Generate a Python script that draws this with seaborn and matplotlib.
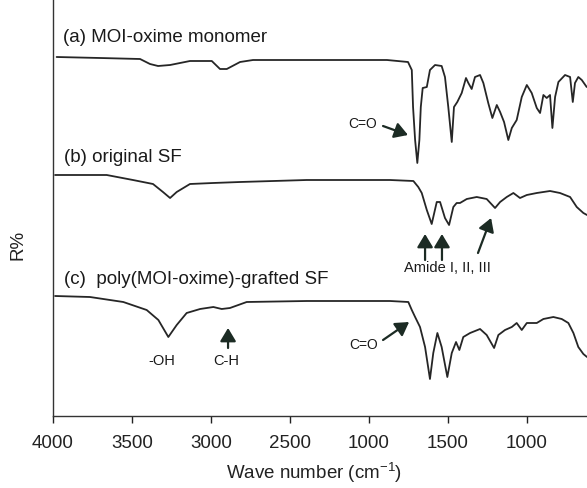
import matplotlib
matplotlib.use("Agg")
import matplotlib.pyplot as plt
import seaborn as sns
import pandas as pd

# ---- data (wavenumber in cm-1, R% in arbitrary offset units) ----
wn_a = [3977, 3702, 3449, 3386, 3335, 3259, 3133, 2995, 2943, 2900, 2816, 2734, 1886, 1753, 1729,
        1721, 1708, 1694, 1681, 1672, 1660, 1634, 1614, 1582, 1540, 1519, 1498, 1476, 1462, 1441,
        1413, 1386, 1371, 1350, 1329, 1297, 1276, 1245, 1219, 1191, 1170, 1145, 1118, 1096, 1065,
        1033, 1001, 970, 938, 917, 896, 875, 854, 839, 822, 801, 759, 727, 710, 696, 675, 653, 622]
r_a = [359, 358, 357, 352, 350, 351, 355, 355, 347, 347, 354, 356, 356, 354, 346,
       309, 276, 253, 276, 309, 328, 329, 346, 351, 350, 339, 309, 274, 309, 314,
       323, 338, 333, 327, 339, 341, 333, 313, 298, 311, 304, 294, 276, 288, 296,
       319, 331, 323, 308, 303, 321, 318, 321, 288, 319, 334, 341, 339, 314, 333, 339, 336, 329]

wn_b = [3987, 3660, 3494, 3367, 3304, 3259, 3217, 3133, 2987, 2816, 2394, 1867, 1719, 1688, 1666,
        1634, 1603, 1571, 1550, 1519, 1493, 1466, 1445, 1424, 1381, 1318, 1255, 1202, 1170, 1128,
        1086, 1044, 1001, 938, 854, 791, 727, 685, 643, 620]
r_b = [241, 241, 236, 232, 224, 218, 224, 232, 233, 234, 236, 236, 235, 229, 223,
       206, 192, 214, 214, 198, 191, 209, 213, 213, 217, 219, 217, 208, 214, 219,
       223, 218, 221, 223, 225, 223, 219, 209, 203, 201]

wn_c = [3987, 3766, 3555, 3407, 3333, 3270, 3217, 3154, 3069, 2985, 2932, 2880, 2774, 2394, 1867,
        1751, 1729, 1708, 1677, 1645, 1614, 1593, 1567, 1540, 1504, 1476, 1449, 1428, 1403, 1360,
        1297, 1255, 1208, 1181, 1139, 1096, 1065, 1033, 1001, 938, 896, 833, 780, 738, 706,
        675, 643, 620]
r_c = [120, 119, 114, 106, 96, 79, 91, 103, 107, 109, 107, 108, 114, 115, 115,
       114, 106, 99, 89, 69, 37, 63, 83, 69, 39, 63, 74, 66, 79, 83,
       87, 81, 68, 81, 86, 89, 93, 86, 93, 93, 97, 99, 97, 93, 83,
       69, 62, 59]

labels = ["(a) MOI-oxime monomer", "(b) original SF", "(c)  poly(MOI-oxime)-grafted SF"]
tick_pos = [4000, 3500, 3000, 2500, 2000, 1500, 1000]
tick_labels = ["4000", "3500", "3000", "2500", "1000", "1500", "1000"]

# ---- build table ----
frames = []
for name, w, r in zip(labels, [wn_a, wn_b, wn_c], [r_a, r_b, r_c]):
    frames.append(pd.DataFrame({"wn": w, "R": r, "sample": name}))
df = pd.concat(frames, ignore_index=True)

sns.set_style("white")
plt.rcParams["font.family"] = ["Liberation Sans", "DejaVu Sans"]
plt.rcParams["mathtext.fontset"] = "custom"
plt.rcParams["mathtext.rm"] = "Liberation Sans"

W, H = 587, 488
fig = plt.figure(figsize=(W / 100, H / 100), dpi=100)
ax = fig.add_axes([53 / W, 72 / H, 534 / W, 416 / H])

line_col = "#262626"
sns.lineplot(data=df, x="wn", y="R", units="sample", estimator=None, sort=False,
             color=line_col, linewidth=1.3, ax=ax, legend=False)

ax.set_xlim(4000, 620)
ax.set_ylim(0, 416)
ax.set_xticks(tick_pos)
ax.set_xticklabels(tick_labels, fontsize=13.5)
ax.set_yticks([])
ax.tick_params(axis="x", direction="out", length=5, width=1, pad=9, colors="#222222",
               bottom=True)
for s in ["top", "right"]:
    ax.spines[s].set_visible(False)
for s in ["left", "bottom"]:
    ax.spines[s].set_color("#333333")
    ax.spines[s].set_linewidth(1.0)

ax.set_xlabel("Wave number (cm$^{\\mathregular{-1}}$)", fontsize=13.5, color="#222222")
ax.xaxis.set_label_coords((314 - 53) / 534, -(460 - 416) / 416)
ax.set_ylabel("R%", fontsize=13.5, color="#222222")
ax.yaxis.set_label_coords(-(53 - 27) / 534, (416 - 245) / 416)

# sample labels
for txt, (xw, yv) in zip(labels, [(3937, 379), (3930, 259), (3930, 137)]):
    ax.text(xw, yv, txt, fontsize=13.5, color="#1a1a1a", ha="left", va="center")

arrow_col = "#1c2b24"
ap = dict(arrowstyle="-|>,head_length=0.5,head_width=0.3", color=arrow_col, lw=1.6,
          mutation_scale=16, shrinkA=0, shrinkB=0)

# C=O (a)
ax.annotate("", xy=(1753, 281), xytext=(1911, 290), arrowprops=ap)
ax.text(2038, 292, "C=O", fontsize=10, ha="center", va="center", color="#1a1a1a")

# Amide arrows
ax.annotate("", xy=(1645, 182), xytext=(1645, 156), arrowprops=ap)
ax.annotate("", xy=(1538, 182), xytext=(1538, 156), arrowprops=ap)
ax.annotate("", xy=(1227, 198), xytext=(1310, 163), arrowprops=ap)
ax.text(1506, 148, "Amide I, II, III", fontsize=10.5, ha="center", va="center", color="#1a1a1a")

# -OH, C-H
ax.text(3310, 55, "-OH", fontsize=10.5, ha="center", va="center", color="#1a1a1a")
ax.annotate("", xy=(2892, 88), xytext=(2892, 68), arrowprops=ap)
ax.text(2905, 55, "C-H", fontsize=10.5, ha="center", va="center", color="#1a1a1a")

# C=O (c)
ax.annotate("", xy=(1746, 94), xytext=(1911, 76), arrowprops=ap)
ax.text(2031, 71, "C=O", fontsize=10, ha="center", va="center", color="#1a1a1a")

fig.savefig("out.png", dpi=100)
